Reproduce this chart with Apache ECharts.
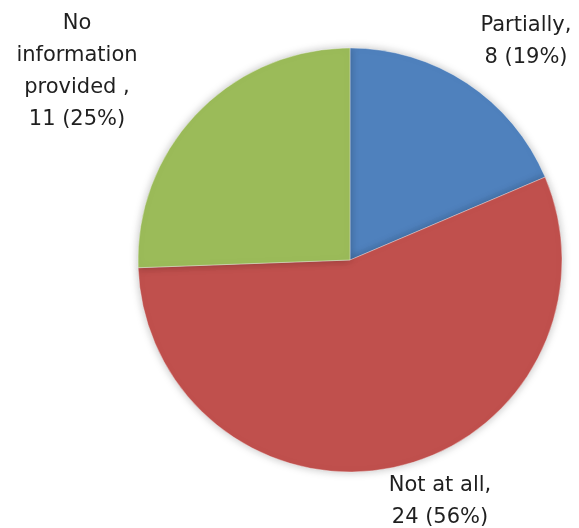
<!DOCTYPE html>
<html>
<head>
<meta charset="utf-8">
<script src="https://cdn.jsdelivr.net/npm/echarts@6/dist/echarts.min.js"></script>
<style>
  html, body { margin: 0; padding: 0; background: #ffffff; }
  #chart { width: 579px; height: 528px; }
</style>
</head>
<body>
<div id="chart"></div>
<script>
// Responses per category
const categories = ['Partially', 'Not at all', 'No information provided '];
const counts = [8, 24, 11];
const colors = ['#4F81BD', '#C0504D', '#9BBB59'];

// Label anchor points (centre of each text block)
const labelAnchors = [[526, 42], [440, 502], [77, 72]];

const chart = echarts.init(document.getElementById('chart'), null, { renderer: 'canvas' });

chart.setOption({
  animation: false,
  backgroundColor: '#ffffff',
  series: [{
    type: 'pie',
    center: [350, 260],
    radius: 212,
    startAngle: 90,
    clockwise: true,
    percentPrecision: 0,
    data: categories.map((name, i) => ({
      name: name,
      value: counts[i],
      itemStyle: { color: colors[i] }
    })),
    itemStyle: {
      borderColor: 'rgba(255,255,255,0.6)',
      borderWidth: 0.6,
      shadowBlur: 9,
      shadowColor: 'rgba(0,0,0,0.25)'
    },
    label: {
      show: true,
      position: 'outside',
      fontFamily: 'DejaVu Sans',
      fontSize: 21,
      lineHeight: 32,
      color: '#1f1f1f',
      align: 'center',
      overflow: 'none',
      formatter: function (p) {
        const head = p.dataIndex === 2 ? p.name.trim().split(' ').join('\n') + ' ,' : p.name + ',';
        return head + '\n' + p.value + ' (' + p.percent + '%)';
      }
    },
    labelLine: { show: false },
    labelLayout: function (params) {
      const a = labelAnchors[params.dataIndex];
      return { x: a[0], y: a[1], align: 'center', verticalAlign: 'middle' };
    },
    emphasis: { disabled: true }
  }]
});
</script>
</body>
</html>
